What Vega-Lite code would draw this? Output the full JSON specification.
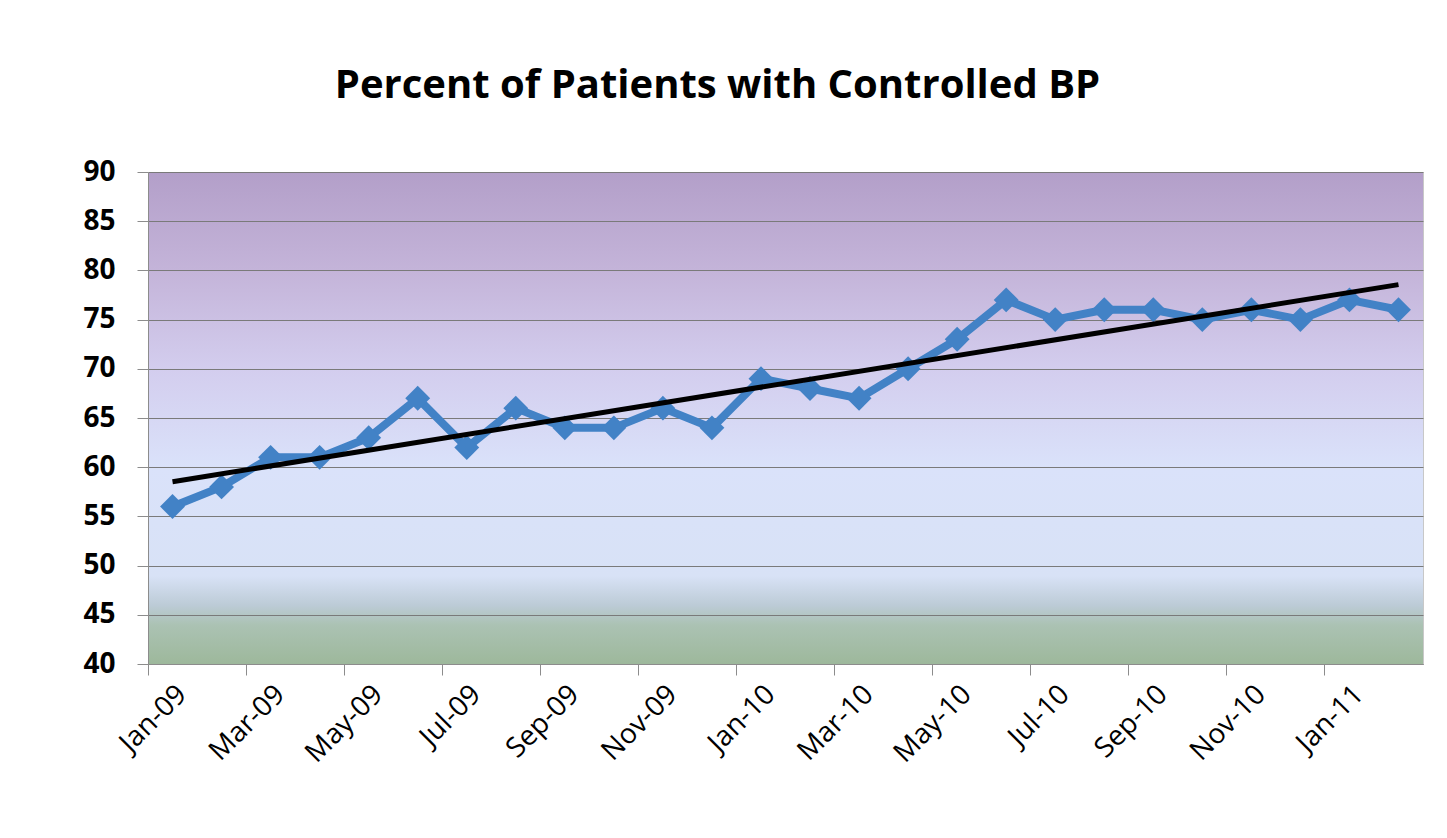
{
  "$schema": "https://vega.github.io/schema/vega-lite/v6.json",
  "autosize": {"type": "none"},
  "width": 1275,
  "height": 492,
  "padding": {"left": 148, "top": 172, "right": 24, "bottom": 174},
  "background": "white",
  "title": {
    "text": "Percent of Patients with Controlled BP",
    "font": "Open Sans",
    "fontSize": 40,
    "fontWeight": "bold",
    "color": "black",
    "anchor": "middle",
    "baseline": "alphabetic",
    "offset": 20,
    "dx": -68
  },
  "data": {
    "values": [
      {"month": "Jan-09", "i": 1, "pct": 56},
      {"month": "Feb-09", "i": 2, "pct": 58},
      {"month": "Mar-09", "i": 3, "pct": 61},
      {"month": "Apr-09", "i": 4, "pct": 61},
      {"month": "May-09", "i": 5, "pct": 63},
      {"month": "Jun-09", "i": 6, "pct": 67},
      {"month": "Jul-09", "i": 7, "pct": 62},
      {"month": "Aug-09", "i": 8, "pct": 66},
      {"month": "Sep-09", "i": 9, "pct": 64},
      {"month": "Oct-09", "i": 10, "pct": 64},
      {"month": "Nov-09", "i": 11, "pct": 66},
      {"month": "Dec-09", "i": 12, "pct": 64},
      {"month": "Jan-10", "i": 13, "pct": 69},
      {"month": "Feb-10", "i": 14, "pct": 68},
      {"month": "Mar-10", "i": 15, "pct": 67},
      {"month": "Apr-10", "i": 16, "pct": 70},
      {"month": "May-10", "i": 17, "pct": 73},
      {"month": "Jun-10", "i": 18, "pct": 77},
      {"month": "Jul-10", "i": 19, "pct": 75},
      {"month": "Aug-10", "i": 20, "pct": 76},
      {"month": "Sep-10", "i": 21, "pct": 76},
      {"month": "Oct-10", "i": 22, "pct": 75},
      {"month": "Nov-10", "i": 23, "pct": 76},
      {"month": "Dec-10", "i": 24, "pct": 75},
      {"month": "Jan-11", "i": 25, "pct": 77},
      {"month": "Feb-11", "i": 26, "pct": 76}
    ]
  },
  "layer": [
    {
      "mark": {"type": "line", "color": "#4282c6", "strokeWidth": 8, "strokeJoin": "round",
        "point": {"shape": "diamond", "size": 620, "filled": true, "color": "#4282c6", "opacity": 1}},
      "encoding": {
        "x": {
          "field": "month", "type": "ordinal", "sort": null,
          "scale": {"type": "band", "paddingInner": 0, "paddingOuter": 0},
          "axis": {
            "title": null,
            "values": ["Jan-09", "Mar-09", "May-09", "Jul-09", "Sep-09", "Nov-09", "Jan-10", "Mar-10", "May-10", "Jul-10", "Sep-10", "Nov-10", "Jan-11"],
            "bandPosition": 0,
            "grid": false,
            "labelAngle": -45,
            "labelAlign": "right",
            "labelBaseline": "middle",
            "labelFont": "Open Sans",
            "labelFontSize": 28,
            "labelColor": "black",
            "labelPadding": 15,
            "labelOffset": 10,
            "tickSize": 11,
            "tickColor": "#8c8c8c",
            "domainColor": "#8c8c8c",
            "labelOverlap": false
          }
        },
        "y": {
          "field": "pct", "type": "quantitative",
          "scale": {"domain": [40, 90], "nice": false, "zero": false},
          "axis": {
            "title": null,
            "values": [40, 45, 50, 55, 60, 65, 70, 75, 80, 85, 90],
            "labelFont": "Open Sans",
            "labelFontSize": 28,
            "labelFontWeight": "bold",
            "labelColor": "black",
            "labelPadding": 22,
            "tickSize": 11,
            "tickColor": "#8c8c8c",
            "domainColor": "#8c8c8c",
            "gridColor": "#7a7a7a",
            "gridOpacity": 1,
            "gridWidth": 1
          }
        }
      }
    },
    {
      "transform": [{"regression": "pct", "on": "i"}],
      "mark": {"type": "line", "color": "black", "strokeWidth": 5},
      "encoding": {
        "x": {"field": "i", "type": "quantitative", "scale": {"domain": [0.5, 26.5], "nice": false, "zero": false}, "axis": null},
        "y": {"field": "pct", "type": "quantitative"}
      }
    }
  ],
  "resolve": {"scale": {"x": "independent"}},
  "config": {
    "view": {
      "stroke": "#c8c8c8",
      "fill": {
        "gradient": "linear", "x1": 0, "y1": 0, "x2": 0, "y2": 1,
        "stops": [
          {"offset": 0, "color": "#b39fc9"},
          {"offset": 0.2, "color": "#c4b4d9"},
          {"offset": 0.4, "color": "#d3cdee"},
          {"offset": 0.6, "color": "#dae2fa"},
          {"offset": 0.82, "color": "#d8e2f6"},
          {"offset": 0.88, "color": "#bccbd6"},
          {"offset": 0.92, "color": "#abc2b3"},
          {"offset": 1, "color": "#9db89b"}
        ]
      }
    }
  }
}
